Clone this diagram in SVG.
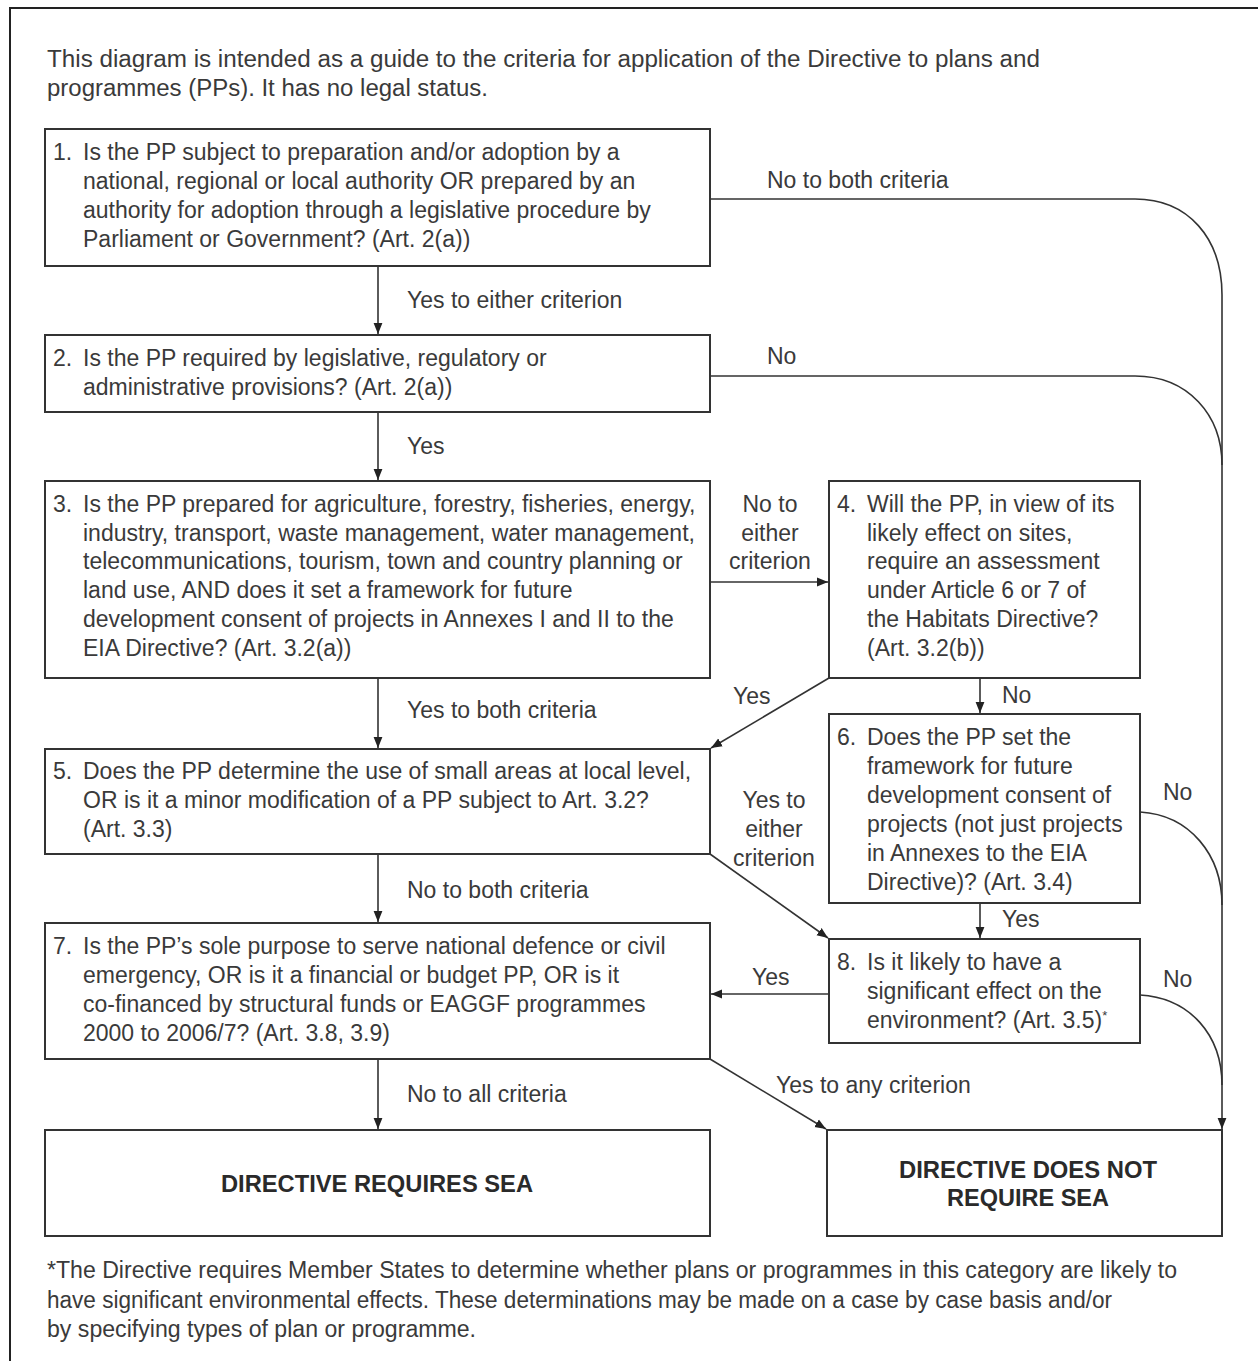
<svg xmlns="http://www.w3.org/2000/svg" width="1258" height="1361" viewBox="0 0 1258 1361">
<style>
text{font-family:"Liberation Sans",Arial,sans-serif;fill:#3a3a3a;font-size:23px}
.t{font-size:23.5px}
.b{font-weight:bold;fill:#2a2a2a;font-size:24px}
.c{text-anchor:middle}
rect.box{fill:#fff;stroke:#333;stroke-width:2}
.con path,.con line{fill:none;stroke:#333;stroke-width:1.6}
.arr{marker-end:url(#ah)}
</style>
<defs>
<marker id="ah" viewBox="0 0 10 10" refX="10" refY="5" markerWidth="11" markerHeight="11" markerUnits="userSpaceOnUse" orient="auto">
<path d="M0,1 L10,5 L0,9 Z" fill="#222"/>
</marker>
</defs>
<rect width="1258" height="1361" fill="#fff"/>
<path d="M10,1361 V8 H1258" fill="none" stroke="#222" stroke-width="2"/>
<g id="intro">
<text class="t" x="47" y="67" textLength="993" lengthAdjust="spacingAndGlyphs">This diagram is intended as a guide to the criteria for application of the Directive to plans and</text>
<text class="t" x="47" y="96" textLength="441" lengthAdjust="spacingAndGlyphs">programmes (PPs). It has no legal status.</text>
</g>
<g class="con" id="connectors">
<line class="arr" x1="378" y1="266" x2="378" y2="334"/>
<line class="arr" x1="378" y1="412" x2="378" y2="480"/>
<line class="arr" x1="710" y1="582" x2="828" y2="582"/>
<line class="arr" x1="378" y1="678" x2="378" y2="748"/>
<line class="arr" x1="829" y1="678" x2="711" y2="748"/>
<line class="arr" x1="980" y1="678" x2="980" y2="713"/>
<line class="arr" x1="378" y1="854" x2="378" y2="922"/>
<line class="arr" x1="710" y1="854" x2="828" y2="938"/>
<line class="arr" x1="980" y1="903" x2="980" y2="938"/>
<line class="arr" x1="829" y1="994" x2="711" y2="994"/>
<line class="arr" x1="378" y1="1059" x2="378" y2="1129"/>
<line class="arr" x1="710" y1="1059" x2="826" y2="1129"/>
<path class="arr" d="M710,199 H1135 C1188,199 1222,238 1222,295 V1129"/>
<path d="M710,376 H1135 C1188,376 1222,415 1222,465"/>
<path d="M1140,812 C1190,815 1222,855 1222,905"/>
<path d="M1140,995 C1190,998 1222,1035 1222,1085"/>
<text x="767" y="188">No to both criteria</text>
<text x="407" y="308">Yes to either criterion</text>
<text x="767" y="364">No</text>
<text x="407" y="454">Yes</text>
<text class="c" x="770" y="512">No to</text>
<text class="c" x="770" y="541">either</text>
<text class="c" x="770" y="569">criterion</text>
<text x="407" y="718">Yes to both criteria</text>
<text x="733" y="704">Yes</text>
<text x="1002" y="703">No</text>
<text class="c" x="774" y="808">Yes to</text>
<text class="c" x="774" y="837">either</text>
<text class="c" x="774" y="866">criterion</text>
<text x="1163" y="800">No</text>
<text x="407" y="898">No to both criteria</text>
<text x="1002" y="927">Yes</text>
<text x="752" y="985">Yes</text>
<text x="1163" y="987">No</text>
<text x="407" y="1102">No to all criteria</text>
<text x="776" y="1093">Yes to any criterion</text>
</g>
<g id="n1">
<rect class="box" x="45" y="129" width="665" height="137"/>
<text x="53" y="160">1.</text>
<text x="83" y="160">Is the PP subject to preparation and/or adoption by a</text>
<text x="83" y="189">national, regional or local authority OR prepared by an</text>
<text x="83" y="218">authority for adoption through a legislative procedure by</text>
<text x="83" y="247">Parliament or Government? (Art. 2(a))</text>
</g>
<g id="n2">
<rect class="box" x="45" y="335" width="665" height="77"/>
<text x="53" y="366">2.</text>
<text x="83" y="366">Is the PP required by legislative, regulatory or</text>
<text x="83" y="395">administrative provisions? (Art. 2(a))</text>
</g>
<g id="n3">
<rect class="box" x="45" y="481" width="665" height="197"/>
<text x="53" y="512">3.</text>
<text x="83" y="512">Is the PP prepared for agriculture, forestry, fisheries, energy,</text>
<text x="83" y="541">industry, transport, waste management, water management,</text>
<text x="83" y="569">telecommunications, tourism, town and country planning or</text>
<text x="83" y="598">land use, AND does it set a framework for future</text>
<text x="83" y="627">development consent of projects in Annexes I and II to the</text>
<text x="83" y="656">EIA Directive? (Art. 3.2(a))</text>
</g>
<g id="n4">
<rect class="box" x="829" y="481" width="311" height="197"/>
<text x="837" y="512">4.</text>
<text x="867" y="512">Will the PP, in view of its</text>
<text x="867" y="541">likely effect on sites,</text>
<text x="867" y="569">require an assessment</text>
<text x="867" y="598">under Article 6 or 7 of</text>
<text x="867" y="627">the Habitats Directive?</text>
<text x="867" y="656">(Art. 3.2(b))</text>
</g>
<g id="n5">
<rect class="box" x="45" y="749" width="665" height="105"/>
<text x="53" y="779">5.</text>
<text x="83" y="779">Does the PP determine the use of small areas at local level,</text>
<text x="83" y="808">OR is it a minor modification of a PP subject to Art. 3.2?</text>
<text x="83" y="837">(Art. 3.3)</text>
</g>
<g id="n6">
<rect class="box" x="829" y="714" width="311" height="189"/>
<text x="837" y="745">6.</text>
<text x="867" y="745">Does the PP set the</text>
<text x="867" y="774">framework for future</text>
<text x="867" y="803">development consent of</text>
<text x="867" y="832">projects (not just projects</text>
<text x="867" y="861">in Annexes to the EIA</text>
<text x="867" y="890">Directive)? (Art. 3.4)</text>
</g>
<g id="n7">
<rect class="box" x="45" y="923" width="665" height="136"/>
<text x="53" y="954">7.</text>
<text x="83" y="954">Is the PP’s sole purpose to serve national defence or civil</text>
<text x="83" y="983">emergency, OR is it a financial or budget PP, OR is it</text>
<text x="83" y="1012">co-financed by structural funds or EAGGF programmes</text>
<text x="83" y="1041">2000 to 2006/7? (Art. 3.8, 3.9)</text>
</g>
<g id="n8">
<rect class="box" x="829" y="939" width="311" height="104"/>
<text x="837" y="970">8.</text>
<text x="867" y="970">Is it likely to have a</text>
<text x="867" y="999">significant effect on the</text>
<text x="867" y="1028">environment? (Art. 3.5)<tspan font-size="13" dy="-8">*</tspan></text>
</g>
<g id="sea">
<rect class="box" x="45" y="1130" width="665" height="106"/>
<text class="b c" x="377" y="1192" textLength="312" lengthAdjust="spacingAndGlyphs">DIRECTIVE REQUIRES SEA</text>
</g>
<g id="nosea">
<rect class="box" x="827" y="1130" width="395" height="106"/>
<text class="b c" x="1028" y="1178" textLength="258" lengthAdjust="spacingAndGlyphs">DIRECTIVE DOES NOT</text>
<text class="b c" x="1028" y="1206" textLength="162" lengthAdjust="spacingAndGlyphs">REQUIRE SEA</text>
</g>
<g id="footnote">
<text class="t" x="47" y="1278" textLength="1130" lengthAdjust="spacingAndGlyphs">*The Directive requires Member States to determine whether plans or programmes in this category are likely to</text>
<text class="t" x="47" y="1308" textLength="1065" lengthAdjust="spacingAndGlyphs">have significant environmental effects. These determinations may be made on a case by case basis and/or</text>
<text class="t" x="47" y="1337" textLength="429" lengthAdjust="spacingAndGlyphs">by specifying types of plan or programme.</text>
</g>
</svg>
